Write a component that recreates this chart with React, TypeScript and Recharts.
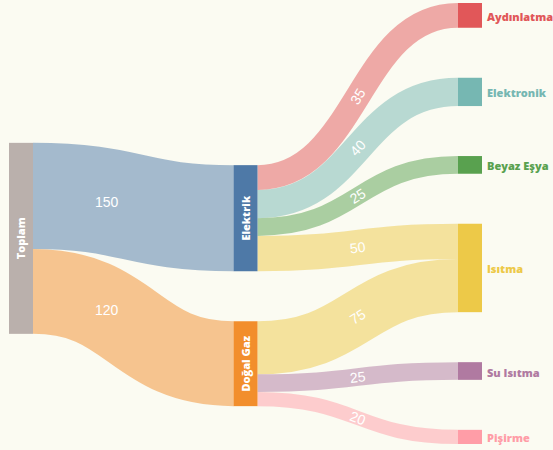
import React from 'react';
import { Sankey } from 'recharts';

const nodeNames = ['Toplam', 'Elektrik', 'Doğal Gaz', 'Aydınlatma', 'Elektronik', 'Beyaz Eşya', 'Isıtma', 'Su Isıtma', 'Pişirme'];
const linkSources = [0, 0, 1, 1, 1, 1, 2, 2, 2];
const linkTargets = [1, 2, 3, 4, 5, 6, 6, 7, 8];
const linkValues = [150, 120, 35, 40, 25, 50, 75, 25, 20];
const nodeColors = ['#bab0ac', '#4e79a7', '#f28e2c', '#e15759', '#76b7b2', '#59a14f', '#edc948', '#b07aa1', '#ff9da7'];

const data = {
  nodes: nodeNames.map((name) => ({ name })),
  links: linkSources.map((s, i) => ({ source: s, target: linkTargets[i], value: linkValues[i] })),
};

const BG = '#fbfbf2';
const LABEL_FONT = '"Open Sans", "DejaVu Sans", sans-serif';

function SankeyNode(props: any) {
  const { x, y, width, height, payload } = props;
  const idx = nodeNames.indexOf(payload.name);
  const color = nodeColors[idx];
  const isLeaf = !linkSources.includes(idx);
  const cx = x + width / 2;
  const cy = y + height / 2;
  return (
    <g>
      <rect x={x} y={y} width={width} height={height} fill={color} />
      {isLeaf ? (
        <text
          x={x + width + 5}
          y={cy + 1}
          fill={color}
          fontSize={11}
          fontWeight={800}
          fontFamily={LABEL_FONT}
          dominantBaseline="central"
        >
          {payload.name}
        </text>
      ) : (
        <text
          x={cx}
          y={cy}
          fill="#ffffff"
          fontSize={11}
          fontWeight={800}
          fontFamily={LABEL_FONT}
          textAnchor="middle"
          dominantBaseline="central"
          transform={`rotate(-90 ${cx} ${cy})`}
        >
          {payload.name}
        </text>
      )}
    </g>
  );
}

function SankeyLink(props: any) {
  const { sourceX, sourceY, sourceControlX, targetX, targetY, targetControlX, linkWidth, payload } = props;
  const sIdx = nodeNames.indexOf(payload.source.name);
  const tIdx = nodeNames.indexOf(payload.target.name);
  const color = nodeColors[tIdx];
  const first = sIdx === 0;
  const t = first ? 0.33 : 0.5;
  const u = 1 - t;
  const px = u * u * u * sourceX + 3 * u * u * t * sourceControlX + 3 * u * t * t * targetControlX + t * t * t * targetX;
  const py = u * u * u * sourceY + 3 * u * u * t * sourceY + 3 * u * t * t * targetY + t * t * t * targetY;
  const dx = 3 * u * u * (sourceControlX - sourceX) + 6 * u * t * (targetControlX - sourceControlX) + 3 * t * t * (targetX - targetControlX);
  const dy = 6 * u * t * (targetY - sourceY);
  const angle = first ? 0 : (Math.atan2(dy, dx) * 180) / Math.PI;
  return (
    <g>
      <path
        d={`M${sourceX},${sourceY} C${sourceControlX},${sourceY} ${targetControlX},${targetY} ${targetX},${targetY}`}
        fill="none"
        stroke={color}
        strokeWidth={linkWidth}
        strokeOpacity={0.5}
      />
      <text
        x={px}
        y={py}
        fill="#ffffff"
        fontSize={14}
        fontFamily='"Liberation Sans", Arial, sans-serif'
        textAnchor="middle"
        dominantBaseline="central"
        transform={`rotate(${angle} ${px} ${py})`}
      >
        {payload.value}
      </text>
    </g>
  );
}

export default function App() {
  return (
    <div style={{ position: 'absolute', left: 0, top: 0, width: 553, height: 450, background: BG, overflow: 'hidden' }}>
      <Sankey
        width={553}
        height={450}
        data={data}
        nodeWidth={24}
        nodePadding={50}
        margin={{ top: 3, bottom: 6, left: 9, right: 71 }}
        node={<SankeyNode />}
        link={<SankeyLink />}
        iterations={32}
        sort={false}
      />
    </div>
  );
}
